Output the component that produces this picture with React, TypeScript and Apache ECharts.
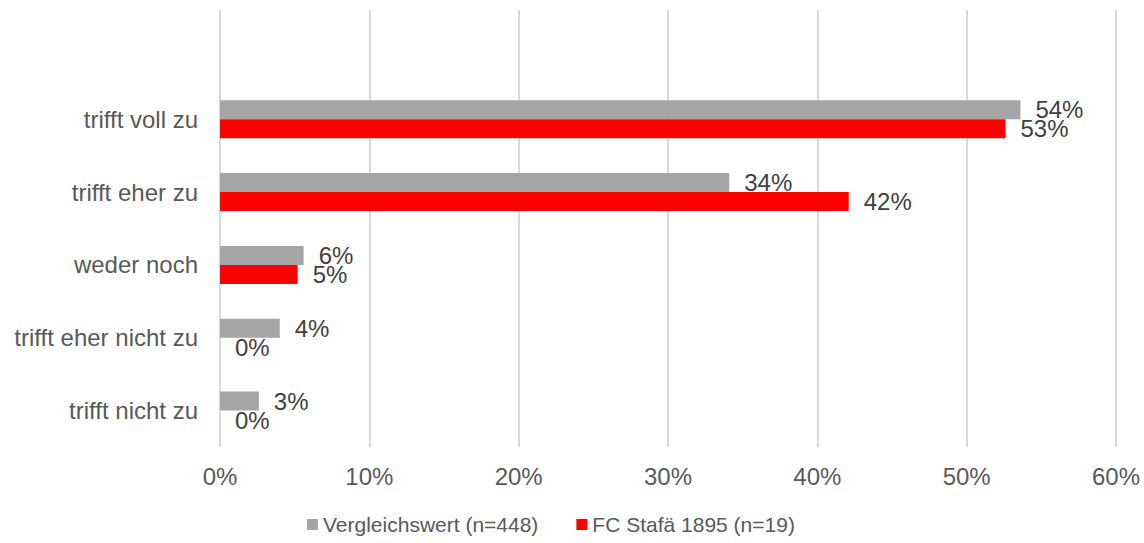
import React, { useEffect, useRef } from "react";
import * as echarts from "echarts";

const categories = ["", "trifft voll zu", "trifft eher zu", "weder noch", "trifft eher nicht zu", "trifft nicht zu"];
const seriesNames = ["Vergleichswert (n=448)", "FC Stafä 1895 (n=19)"];
const vergleich = [null, 53.6, 34.1, 5.6, 4.0, 2.6];
const fcStafa = [null, 52.6, 42.1, 5.2, 0, 0];
const xTicks = [0, 10, 20, 30, 40, 50, 60];

export default function App() {
  const ref = useRef<HTMLDivElement>(null);
  useEffect(() => {
    if (!ref.current) return;
    const chart = echarts.init(ref.current, undefined, { renderer: "svg" });
    const font = "'Liberation Sans', Arial, sans-serif";
    const label = {
      show: true,
      position: "right",
      distance: 15,
      fontSize: 24,
      fontFamily: font,
      color: "#404040",
      formatter: (p: any) => (p.value == null ? "" : Math.round(p.value) + "%"),
    };
    chart.setOption({
      animation: false,
      grid: { left: 220, right: 28, top: 10, bottom: 96, containLabel: false },
      legend: {
        left: 302,
        top: 509,
        itemWidth: 11,
        itemHeight: 11,
        itemGap: 38,
        icon: "rect",
        textStyle: { fontSize: 21, fontFamily: font, color: "#595959" },
        data: seriesNames,
      },
      xAxis: {
        type: "value",
        min: xTicks[0],
        max: xTicks[xTicks.length - 1],
        interval: 10,
        axisLine: { show: false },
        axisTick: { show: false },
        splitLine: { show: true, lineStyle: { color: "#d9d9d9", width: 2 } },
        axisLabel: {
          formatter: (v: number) => v + "%",
          fontSize: 24,
          fontFamily: font,
          color: "#595959",
          margin: 17,
        },
      },
      yAxis: {
        type: "category",
        inverse: true,
        data: categories,
        axisLine: { show: false },
        axisTick: { show: false },
        axisLabel: { fontSize: 24, fontFamily: font, color: "#595959", margin: 22 },
      },
      series: [
        {
          name: seriesNames[0],
          type: "bar",
          data: vergleich,
          barWidth: 19,
          barGap: "0%",
          itemStyle: { color: "#a5a5a5" },
          label,
        },
        {
          name: seriesNames[1],
          type: "bar",
          data: fcStafa,
          barWidth: 19,
          barGap: "0%",
          itemStyle: { color: "#ff0000" },
          label,
        },
      ],
    });
    return () => chart.dispose();
  }, []);
  return (
    <div
      ref={ref}
      style={{ position: "fixed", left: 0, top: 0, width: 1144, height: 543, background: "#fff" }}
    />
  );
}
